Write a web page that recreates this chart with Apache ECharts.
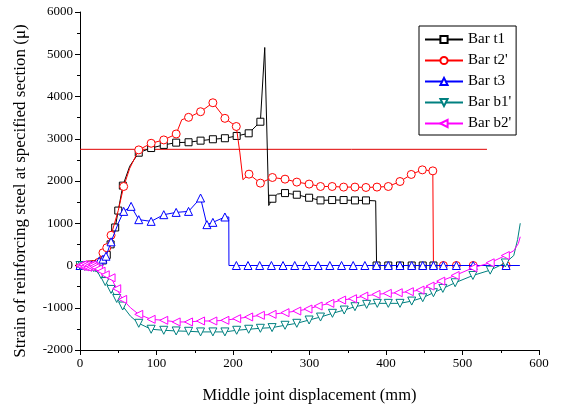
<!DOCTYPE html>
<html>
<head>
<meta charset="utf-8">
<script src="https://cdn.jsdelivr.net/npm/echarts@6/dist/echarts.min.js"></script>
<style>html,body{margin:0;padding:0;background:#fff}#c{width:561px;height:409px}</style>
</head>
<body>
<div id="c"></div>
<script>
// [x (mm), strain (μ), marker? 1/0]
const barT1 = [
[0,0,1],[5,0,1],[10,10,1],[15,20,1],[20,30,1],[25,60,1],[30,120,1],[35,250,1],[40,500,1],[46,900,1],[50,1300,1],[56,1890,1],[65,2350,0],[76.8,2670,1],[93,2780,1],[109.5,2854,1],[125.7,2908,1],[141.9,2917,1],[157.6,2955,1],[173.7,2988,1],[189.4,3012,1],[204.8,3066,1],[220.5,3129,1],[235.8,3403,1],[241.5,5160,0],[246.7,1420,0],[251.5,1580,1],[258,1690,0],[268,1714,1],[283.4,1675,1],[299.5,1604,1],[314.4,1541,1],[329.6,1549,1],[344.6,1549,1],[359.4,1541,1],[373.8,1541,1],[386.5,1530,0],[387.7,0,1],[403,0,1],[418.3,0,1],[433.6,0,1],[448,0,1],[462,0,1]
];
const barT2 = [
[0,0,1],[5,0,1],[10,10,1],[15,20,1],[20,30,1],[25,80,1],[30,300,1],[35,420,1],[40.6,715,1],[50,1300,0],[57.1,1870,1],[65,2300,0],[76.8,2736,1],[93,2893,1],[109.5,2972,1],[125.7,3113,1],[133,3450,0],[141.9,3507,1],[157.6,3640,1],[173.7,3852,1],[189.4,3483,1],[204.3,3290,1],[209,2665,0],[213,2030,0],[220.9,2162,1],[235.8,1950,1],[251.5,2083,1],[268,2044,1],[283.4,1974,1],[299.5,1927,1],[314.4,1870,1],[329.6,1870,1],[344.6,1856,1],[359.4,1856,1],[373.8,1847,1],[388.2,1856,1],[403,1870,1],[418.3,1988,1],[433,2155,1],[447.5,2264,1],[461.2,2240,1],[462,0,0],[475,0,1],[492,0,1],[514,0,1],[557,0,1]
];
const barT3 = [
[0,0,1],[5,0,1],[10,0,1],[15,10,1],[20,20,1],[25,100,1],[30,150,1],[34,220,1],[40.6,560,1],[50,1000,0],[57.1,1281,1],[66.8,1400,1],[76.8,1085,1],[93,1045,1],[109.5,1203,1],[125.7,1257,1],[141.9,1281,1],[157.6,1597,1],[165.9,967,1],[173.7,1021,1],[189.4,1148,1],[194.5,1148,0],[194.7,0,0],[204.4,0,1],[219.6,0,1],[234.9,0,1],[250.2,0,1],[265.4,0,1],[280.7,0,1],[296,0,1],[311.3,0,1],[326.6,0,1],[341.9,0,1],[357.1,0,1],[372.4,0,1],[387.7,0,1],[403,0,1],[418.3,0,1],[433.6,0,1],[448,0,1],[462,0,1],[475,0,1],[492,0,1],[514,0,1],[557,0,1],[575,0,0]
];
const barB1 = [
[0,0,1],[3,-10,1],[6,-20,1],[9,-20,1],[12,-30,1],[15,-40,1],[18,-50,1],[21,-60,1],[24,-100,1],[27.5,-212,1],[33,-380,1],[40.6,-566,1],[48,-780,1],[55.8,-959,1],[66,-1200,0],[76.8,-1368,1],[93,-1509,1],[109.5,-1533,1],[125.7,-1549,1],[141.9,-1557,1],[157.6,-1572,1],[173.7,-1572,1],[189.4,-1572,1],[204.8,-1533,1],[220.5,-1509,1],[235.8,-1486,1],[251.1,-1470,1],[268,-1415,1],[283.4,-1368,1],[299.5,-1290,1],[314.4,-1220,1],[330,-1132,1],[345.4,-1054,1],[359.4,-975,1],[374.7,-920,1],[388.6,-896,1],[403,-896,1],[418.3,-896,1],[433.6,-842,1],[448,-762,1],[462,-644,1],[474.3,-542,1],[490.4,-408,1],[513.6,-236,1],[536.2,-110,1],[556,60,1],[567,236,0],[572,613,0],[575.5,1000,0]
];
const barB2 = [
[0,0,1],[2,-20,1],[4,20,1],[6,-30,1],[8,10,1],[10,-40,1],[12,0,1],[14,-30,1],[16,10,1],[18,-20,1],[20,-50,1],[24,-80,1],[27.5,-134,1],[33,-220,1],[40.6,-291,1],[48,-550,1],[55.8,-802,1],[66,-1000,0],[76.8,-1156,1],[93,-1274,1],[109.5,-1297,1],[125.7,-1336,1],[141.9,-1336,1],[157.6,-1313,1],[173.7,-1313,1],[189.4,-1297,1],[204.8,-1258,1],[220.5,-1218,1],[235.8,-1179,1],[251.1,-1156,1],[268,-1116,1],[283.4,-1077,1],[298,-1030,1],[311.3,-959,1],[326.6,-896,1],[342,-818,1],[356.3,-786,1],[371,-724,1],[386.9,-684,1],[401.7,-660,1],[416,-644,1],[430.5,-620,1],[444.5,-582,1],[457.6,-487,1],[471.6,-370,1],[490.4,-236,1],[513.6,-55,1],[536.2,64,1],[556,236,1],[567,350,0],[573,520,0],[575.5,680,0]
];
const yieldStrain = 2750;
const yieldLine = [[0, yieldStrain], [355, yieldStrain], [532, yieldStrain]];
const seriesNames = ['Bar t1', "Bar t2'", 'Bar t3', "Bar b1'", "Bar b2'"];
const xTicks = [0, 100, 200, 300, 400, 500, 600];
const yTicks = [-2000, -1000, 0, 1000, 2000, 3000, 4000, 5000, 6000];

const FONT = '"Liberation Serif", "Times New Roman", serif';
const colors = ['#000000', '#ff0000', '#0000ff', '#008080', '#ff00ff'];
const symbols = ['rect', 'circle', 'triangle', 'triangle', 'triangle'];
const rotates = [0, 0, 0, 180, 90];
const sizes = [7, 8, 8, 8, 8];
const datasets = [barT1, barT2, barT3, barB1, barB2];

function toItems(arr) {
  return arr.map(p => p[2] ? [p[0], p[1]] : {value: [p[0], p[1]], symbol: 'none'});
}

const series = datasets.map((d, i) => ({
  name: seriesNames[i],
  type: 'line',
  data: toItems(d),
  symbol: symbols[i],
  symbolSize: sizes[i],
  symbolRotate: rotates[i],
  showAllSymbol: true,
  animation: false,
  lineStyle: {color: colors[i], width: 1},
  itemStyle: {color: '#ffffff', borderColor: colors[i], borderWidth: 1},
  z: 3 + i
}));

series.unshift({
  name: 'Yield',
  type: 'line',
  data: yieldLine.map((p, i) => i === 1 ? {value: p, label: {show: true, position: 'top', distance: 1, formatter: 'Yield Strain', fontFamily: FONT, fontSize: 16, color: '#000'}} : p),
  symbol: 'none',
  animation: false,
  lineStyle: {color: '#e00000', width: 1},
  z: 2
});

const chart = echarts.init(document.getElementById('c'), null, {renderer: 'canvas'});
chart.setOption({
  backgroundColor: '#ffffff',
  animation: false,
  grid: {left: 80, right: 22, top: 12, bottom: 58},
  legend: {
    data: seriesNames,
    orient: 'vertical',
    left: 419, top: 26,
    padding: [6, 5, 4, 5],
    itemGap: 6,
    itemWidth: 38,
    itemHeight: 9,
    borderColor: '#000',
    borderWidth: 1,
    textStyle: {fontFamily: FONT, fontSize: 15, color: '#000', lineHeight: 14}
  },
  xAxis: {
    type: 'value', min: xTicks[0], max: xTicks[xTicks.length - 1], interval: 100,
    name: 'Middle joint displacement (mm)', nameLocation: 'middle', nameGap: 37,
    nameTextStyle: {fontFamily: FONT, fontSize: 16.5, color: '#000'},
    axisLine: {onZero: false, lineStyle: {color: '#000', width: 1}},
    axisTick: {show: true, length: 5, lineStyle: {color: '#000'}},
    minorTick: {show: true, splitNumber: 2, length: 3, lineStyle: {color: '#000'}},
    axisLabel: {fontFamily: FONT, fontSize: 13, color: '#000', margin: 7, formatter: v => String(v)},
    splitLine: {show: false}
  },
  yAxis: {
    type: 'value', min: yTicks[0], max: yTicks[yTicks.length - 1], interval: 1000,
    name: 'Strain of reinforcing steel at specified section (μ)', nameLocation: 'middle', nameGap: 51,
    nameTextStyle: {fontFamily: FONT, fontSize: 17, color: '#000', padding: [0, 20, 0, 0]},
    axisLine: {onZero: false, lineStyle: {color: '#000', width: 1}},
    axisTick: {show: true, length: 5, lineStyle: {color: '#000'}},
    minorTick: {show: true, splitNumber: 2, length: 3, lineStyle: {color: '#000'}},
    axisLabel: {fontFamily: FONT, fontSize: 13, color: '#000', margin: 7, formatter: v => String(v)},
    splitLine: {show: false}
  },
  series: series
});
</script>
</body>
</html>
